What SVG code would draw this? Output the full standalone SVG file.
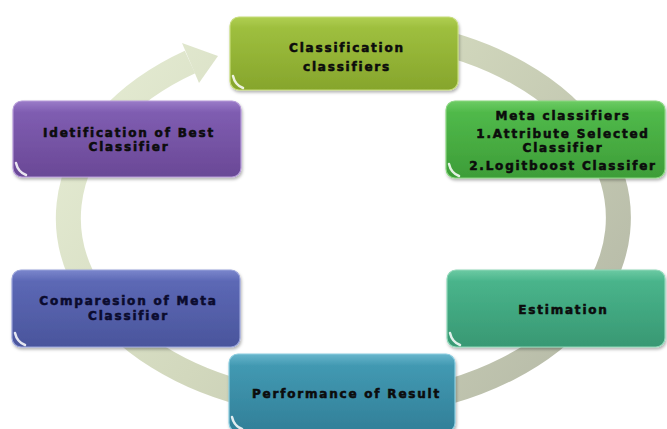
<svg xmlns="http://www.w3.org/2000/svg" width="667" height="429" viewBox="0 0 667 429">
<style>
.lbl{font-family:"DejaVu Sans","Liberation Sans",sans-serif;font-weight:bold;font-size:12px;letter-spacing:1.8px;text-anchor:middle;fill:#0c0c0c;stroke:#0c0c0c;stroke-width:0.55px}
.box{stroke-width:1.2;filter:url(#sh)}
.gleam{fill:none;stroke:#ffffff;stroke-width:2.5;stroke-linecap:round;opacity:0.85}
</style>
<defs>
<filter id="sh" x="-10%" y="-10%" width="120%" height="130%">
<feDropShadow dx="1" dy="2" stdDeviation="1.8" flood-color="#000" flood-opacity="0.3"/>
</filter>
<linearGradient id="ring" gradientUnits="userSpaceOnUse" x1="100" y1="60" x2="560" y2="400">
<stop offset="0" stop-color="#e4ebd2"/>
<stop offset="0.45" stop-color="#d2d8bd"/>
<stop offset="1" stop-color="#b7bba8"/>
</linearGradient>
<linearGradient id="g1" x1="0" y1="0" x2="0" y2="1"><stop offset="0" stop-color="#b0cf52"/><stop offset="0.15" stop-color="#9ebf3e"/><stop offset="1" stop-color="#86a52c"/></linearGradient>
<linearGradient id="g2" x1="0" y1="0" x2="0" y2="1"><stop offset="0" stop-color="#6dcc64"/><stop offset="0.15" stop-color="#50b94a"/><stop offset="1" stop-color="#3d9d38"/></linearGradient>
<linearGradient id="g3" x1="0" y1="0" x2="0" y2="1"><stop offset="0" stop-color="#9a7bc8"/><stop offset="0.15" stop-color="#7f5db1"/><stop offset="1" stop-color="#6a4896"/></linearGradient>
<linearGradient id="g4" x1="0" y1="0" x2="0" y2="1"><stop offset="0" stop-color="#7a86cc"/><stop offset="0.15" stop-color="#5c68b5"/><stop offset="1" stop-color="#4a559c"/></linearGradient>
<linearGradient id="g5" x1="0" y1="0" x2="0" y2="1"><stop offset="0" stop-color="#6ccaa3"/><stop offset="0.15" stop-color="#49b48b"/><stop offset="1" stop-color="#389873"/></linearGradient>
<linearGradient id="g6" x1="0" y1="0" x2="0" y2="1"><stop offset="0" stop-color="#68b6cc"/><stop offset="0.15" stop-color="#4299b2"/><stop offset="1" stop-color="#317f98"/></linearGradient>
</defs>
<rect width="667" height="429" fill="#ffffff"/>
<g id="connectors">
<path d="M 414.2,36.4 A 275 188 0 1 1 190,62" fill="none" stroke="url(#ring)" stroke-width="25"/>
<polygon points="182,43 218,56 199,83" fill="url(#ring)"/>
</g>
<g id="node-classification">
<rect class="box" x="230" y="17" width="228" height="73" rx="9" fill="url(#g1)" stroke="#c6dc7a"/>
<path class="gleam" d="M233,76 Q235,85 243,88"/>
<text class="lbl" x="347" y="51.5">Classification</text>
<text class="lbl" x="347" y="70.5">classifiers</text>
</g>
<g id="node-meta">
<rect class="box" x="446" y="101" width="219" height="77" rx="9" fill="url(#g2)" stroke="#8ad680"/>
<path class="gleam" d="M449,164 Q451,173 459,176"/>
<text class="lbl" x="563" y="119.5">Meta classifiers</text>
<text class="lbl" x="563" y="137.5">1.Attribute Selected</text>
<text class="lbl" x="563" y="151.5">Classifier</text>
<text class="lbl" x="563" y="169.5">2.Logitboost Classifer</text>
</g>
<g id="node-identification">
<rect class="box" x="13" y="101" width="228" height="76" rx="9" fill="url(#g3)" stroke="#b59ad8"/>
<path class="gleam" d="M16,163 Q18,172 26,175"/>
<text class="lbl" x="129" y="137">Idetification of Best</text>
<text class="lbl" x="129" y="150.5">Classifier</text>
</g>
<g id="node-comparison">
<rect class="box" x="12" y="270" width="228" height="77" rx="9" fill="url(#g4)" stroke="#98a2da"/>
<path class="gleam" d="M15,333 Q17,342 25,345"/>
<text class="lbl" x="128.5" y="305" style="fill:#0b0b2e;stroke:#0b0b2e">Comparesion of Meta</text>
<text class="lbl" x="128.5" y="319.5" style="fill:#0b0b2e;stroke:#0b0b2e">Classifier</text>
</g>
<g id="node-estimation">
<rect class="box" x="447" y="270" width="218" height="77" rx="9" fill="url(#g5)" stroke="#8fd8b8"/>
<path class="gleam" d="M450,333 Q452,342 460,345"/>
<text class="lbl" x="563.5" y="313.5">Estimation</text>
</g>
<g id="node-performance">
<rect class="box" x="229" y="354" width="226" height="78" rx="9" fill="url(#g6)" stroke="#8ccde0"/>
<path class="gleam" d="M232,417 Q234,426 242,429"/>
<text class="lbl" x="346.5" y="397.5">Performance of Result</text>
</g>
</svg>
